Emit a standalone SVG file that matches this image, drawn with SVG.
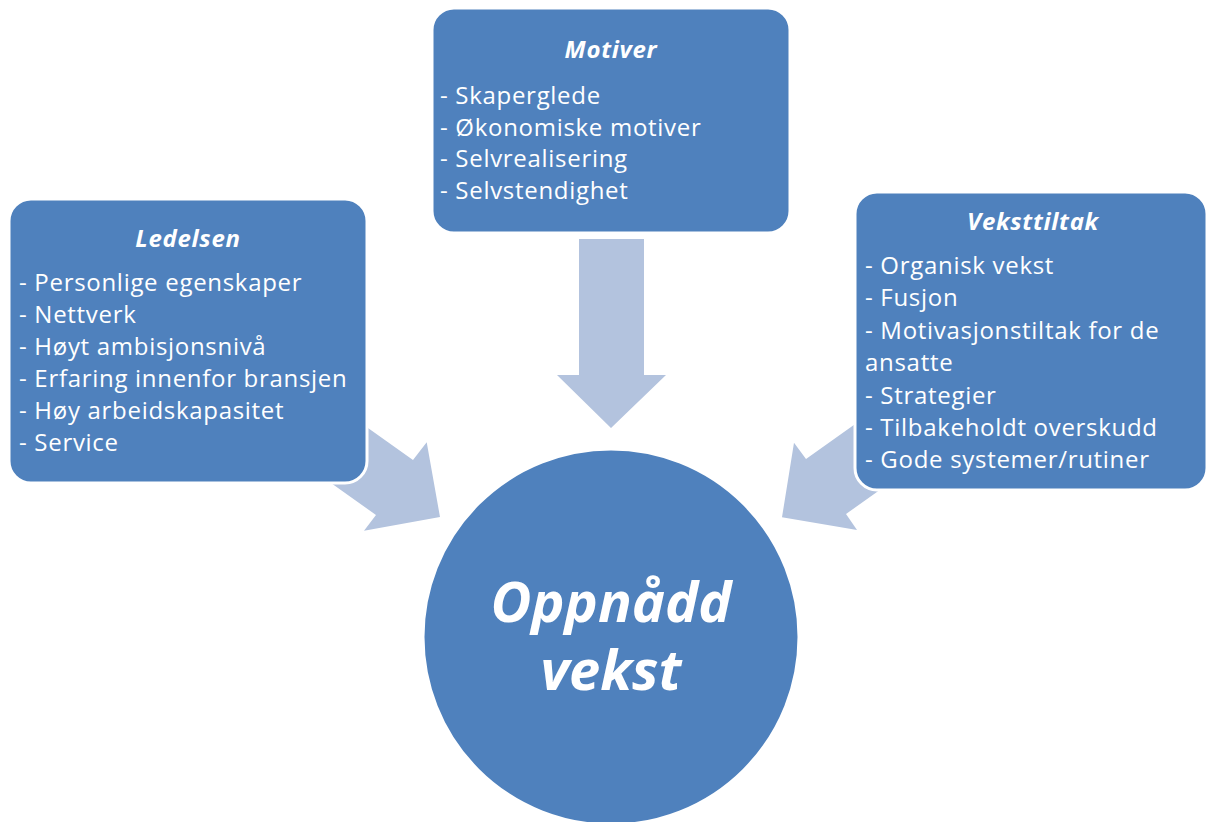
<svg xmlns="http://www.w3.org/2000/svg" width="1208" height="822" viewBox="0 0 1208 822">
<style>
.box{fill:#4F81BD;stroke:#FFFFFF;stroke-width:3}
.arrow{fill:#B3C3DE}
.t{font-family:"Open Sans","Noto Sans",sans-serif;fill:#FFFFFF;font-size:24px;letter-spacing:0.7px}
.h{font-weight:bold;font-style:italic;text-anchor:middle}
.big{font-family:"Open Sans","Noto Sans",sans-serif;fill:#FFFFFF;font-size:56px;font-weight:bold;font-style:italic;text-anchor:middle}
</style>
<rect width="1208" height="822" fill="#FFFFFF"/>
<g id="connectors">
<polygon class="arrow" points="579,239 644,239 644,375 666,375 611,428 557,375 579,375"/>
<polygon class="arrow" points="330,401 413,460 426.7,442.3 440,517 364,530.7 376,515 293,456"/>
<polygon class="arrow" points="889,400 806,459 794,442.7 782,517.3 857,530 846,514 929,455"/>
</g>
<g id="motiver">
<rect class="box" x="432" y="8" width="358" height="225" rx="22"/>
<text class="t h" x="611" y="58">Motiver</text>
<text class="t" x="440" y="104">- Skaperglede</text>
<text class="t" x="440" y="135.5">- Økonomiske motiver</text>
<text class="t" x="440" y="167">- Selvrealisering</text>
<text class="t" x="440" y="198.5">- Selvstendighet</text>
</g>
<g id="ledelsen">
<rect class="box" x="9" y="199" width="358" height="284" rx="22"/>
<text class="t h" x="188" y="247">Ledelsen</text>
<text class="t" x="19" y="291">- Personlige egenskaper</text>
<text class="t" x="19" y="323">- Nettverk</text>
<text class="t" x="19" y="355">- Høyt ambisjonsnivå</text>
<text class="t" x="19" y="387">- Erfaring innenfor bransjen</text>
<text class="t" x="19" y="419">- Høy arbeidskapasitet</text>
<text class="t" x="19" y="451">- Service</text>
</g>
<g id="veksttiltak">
<rect class="box" x="855" y="192" width="352" height="298" rx="22"/>
<text class="t h" x="1033" y="230">Veksttiltak</text>
<text class="t" x="865" y="274">- Organisk vekst</text>
<text class="t" x="865" y="306">- Fusjon</text>
<text class="t" x="865" y="339">- Motivasjonstiltak for de</text>
<text class="t" x="865" y="371">ansatte</text>
<text class="t" x="865" y="404">- Strategier</text>
<text class="t" x="865" y="436">- Tilbakeholdt overskudd</text>
<text class="t" x="865" y="468">- Gode systemer/rutiner</text>
</g>
<g id="oppnaadd">
<circle class="box" cx="611" cy="637" r="188"/>
<text class="big" x="611" y="622">Oppnådd</text>
<text class="big" x="611" y="690">vekst</text>
</g>
</svg>
